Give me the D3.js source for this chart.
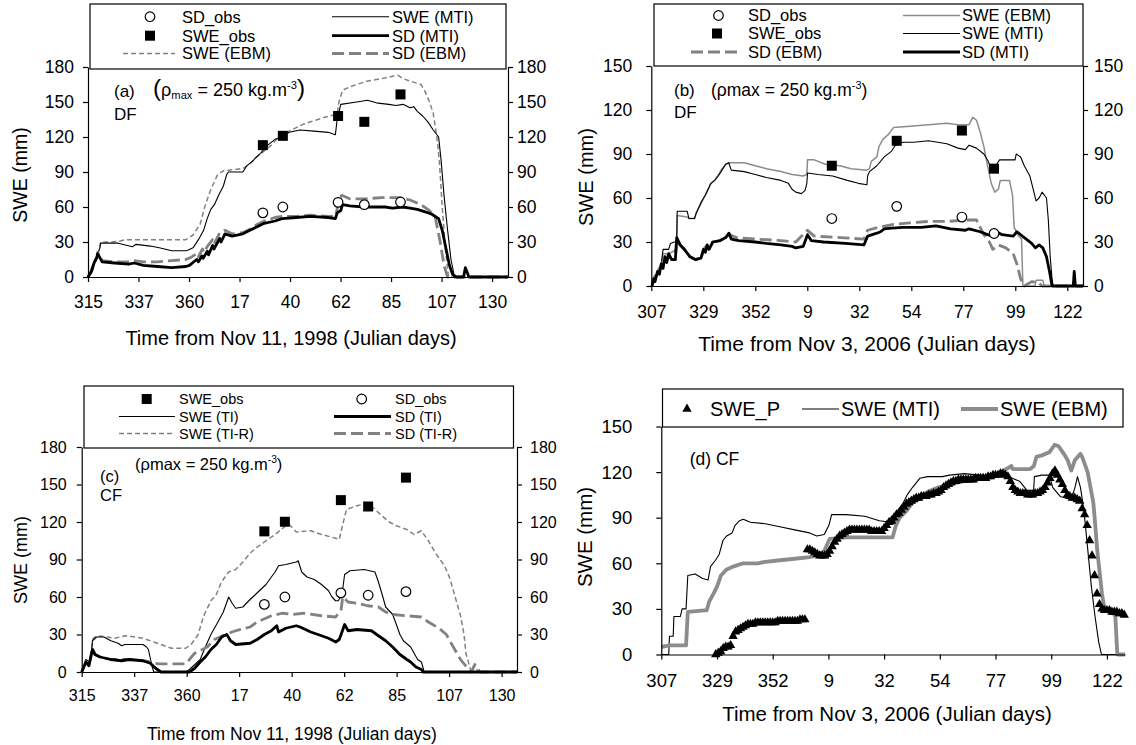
<!DOCTYPE html>
<html><head><meta charset="utf-8">
<script src="https://cdn.jsdelivr.net/npm/d3@7"></script>
<style>body{margin:0;background:#fff}</style>
</head><body>
<svg id="chart" width="1136" height="745" style="background:#fff"></svg>
<script>
// ---------------- DATA ----------------
const xTicksA = [315,337.5,360,382.5,405,427.5,450,472.5,495];
const xTickLabelsA = ["315","337","360","17","40","62","85","107","130"];
const xTicksB = [307,329.5,352,374.5,397,419.5,442,464.5,487];
const xTickLabelsB = ["307","329","352","9","32","54","77","99","122"];
const yTicks180 = [0,30,60,90,120,150,180];
const yTicks150 = [0,30,60,90,120,150];

// Panel (a): day (continuous, >365 = next year), value (mm)
const sweMtiA = [[315,0],[317.1,10],[319,18],[320.3,25],[320.6,29],[328.5,29],[334.8,26],[336.4,28],[342.8,26.5],[346.7,25],[349.1,24],[352.3,22.5],[358.6,22.5],[359.4,23],[361.8,25],[364.2,32],[366.5,40],[368.1,50],[369.7,58],[371.3,62],[373.2,70],[375.3,78],[376.8,88],[377.6,90],[384,90],[385.6,95],[388.7,100],[390,103],[391.9,106],[393.5,110],[395.1,113],[398.3,118],[401.4,120],[404.6,124],[409.4,126],[415.7,125],[422,124],[425.2,122],[426,135],[427.6,148],[434.7,150],[439.5,151.5],[444.2,149],[449,148],[452.2,147],[455.3,148],[458.5,145],[460.1,146],[461.7,142],[464.1,138],[466.4,133],[468.8,126],[471.2,120],[472.3,100],[473.6,70],[475.2,40],[476.7,15],[478.3,0],[482.3,0],[483.1,8],[484.7,0],[502,0]];
const sweEbmA = [[315,0],[317.1,10],[319,18],[320.3,26],[320.6,30],[325,30],[328.5,30.5],[331.7,32],[340,32],[350,32],[358.6,32],[359.4,33],[361.8,36],[364.9,45],[367.3,62],[369.7,75],[372.8,88],[375.3,91],[380,92],[384,93],[387.1,97],[390.3,103],[393.5,108],[396.7,113],[399,118],[401.4,122],[404.6,125],[407.8,128],[411,131],[414.1,133],[418.9,136],[423.6,138.5],[426,140],[426.8,150],[428.4,160],[431.6,163],[434.7,165],[439.5,168],[445.8,170],[450.6,172],[453,173],[455.3,170],[458.5,168],[463.3,165],[464.9,160],[467.2,150],[468.8,140],[470.4,120],[471.5,100],[472.8,60],[474.4,20],[475.6,0],[502,0]];
const sdMtiA = [[315,0],[316.6,5],[317.7,12],[319,17],[319.3,20],[321.3,13],[326.9,12],[333.2,11],[335.6,12],[339.6,10],[345.9,9],[352.3,8],[358.6,9],[360.2,10],[363.4,15],[364.2,13],[365.7,18],[366.3,16],[368.1,22],[368.7,19],[370.5,27],[371.1,24],[373.7,33],[374.3,30],[376,37],[379.2,35],[384,37],[387.1,40],[390.3,43],[393.5,46],[398.3,48],[401.4,50],[407.8,51],[414.1,52],[422,51],[425.2,50],[426,55],[427.6,57],[428.4,62],[431.6,61],[437.9,60],[447.4,60],[450.6,59],[455.3,60],[458.5,59],[461.7,58],[464.9,56],[468,54],[471.2,50],[472.8,40],[474.4,25],[476,10],[477.5,2],[479.1,0],[482.3,0],[483.1,8],[484.7,0],[502,0]];
const sdEbmA = [[315,0],[316.6,5],[317.7,12],[319,17],[319.3,21],[321.3,14],[326.9,13],[333.2,13],[335.6,14],[339.6,13],[345.9,13],[352.3,14],[358.6,15],[361,17],[363.4,20],[364.1,17],[366,24],[366.6,21],[368.1,26],[370.5,32],[371.1,28],[373.7,38],[376,40],[379.2,37],[384,38],[387.1,41],[390.3,45],[393.5,48],[398.3,51],[401.4,52],[407.8,52],[414.1,53],[422,52],[425.2,52],[426.8,65],[428,70],[431.6,67],[437.9,67],[445.8,68],[453.7,68],[458.5,66],[463.3,62],[466.4,58],[469.6,52],[471.9,30],[473.6,10],[475.2,0],[502,0]];
const obsDaysA = [392.9,401.8,426.4,438.1,454.2];
const sweObsA = [113,121,138,133,156.5];
const sdObsA = [55,60,64,62,64.3];

// Panel (b)
const sweMtiB = [[307.3,0],[308.1,3],[309.7,8],[311.3,15],[312.1,25],[314.5,25],[315.3,29],[316.9,30],[318,30],[318.2,51],[322.5,51],[323.3,46],[325.7,46],[326.5,50],[328.8,58],[330.4,62],[332.8,70],[334.4,72],[336,75],[337.6,79],[339.2,83],[340.5,84],[341.6,79],[347.2,78],[352,76],[356.8,74],[363.1,72],[366.3,70],[367.9,66],[369.5,64],[371.9,63],[373.5,65],[374.3,70],[374.6,77],[379.1,76],[385.5,75],[391.8,72],[396.6,70],[400.3,69],[400.6,75],[401.4,78],[404.6,82],[407.8,88],[411,92],[412.6,96],[415.8,98],[420.6,98],[426.9,99],[434.9,97],[439.7,94],[442.9,93],[444.5,96],[447.7,94],[450.9,90],[452.8,85],[453.5,82],[455.6,81],[457.7,86],[462,86],[464.4,86],[464.9,90],[466.8,88],[468.4,82],[470.8,75],[472.4,65],[473.5,58],[474.8,60],[476.1,64],[478,60],[478.8,45],[479.6,20],[480.4,5],[480.9,0],[489.6,0],[490,10],[490.5,0],[493.8,0]];
const sweEbmB = [[307.3,0],[308.1,3],[309.7,8],[311.3,14],[312.1,22],[314.5,22],[316.9,24],[318,26],[318.2,48],[322.5,47],[323.3,46],[325.7,46],[326.5,50],[328.8,57],[330.4,62],[332.8,70],[334.4,72],[336,76],[337.6,80],[339.2,83],[340.8,84],[347.2,84],[352,82],[356.8,80],[363.1,78],[367.9,76],[372.7,75],[374.3,76],[374.6,86],[377.5,86],[382.3,83],[388.7,82],[393.4,80],[400.3,79],[401.4,80],[402.2,85],[404.6,88],[405.5,95],[407.2,100],[409.4,103],[411.8,108],[419,109],[426.9,110],[434.9,111],[439.7,110],[444.5,110],[446.1,115],[447.7,113],[449.3,105],[450.9,95],[452.5,82],[454.1,70],[455.6,64],[457.2,66],[458,72],[462,72],[463.3,62],[464,40],[465.5,35],[467.2,32],[467.8,0],[473,0],[473.5,4],[476.4,4],[477,0],[493.8,0]];
const sdMtiB = [[307.3,0],[308.1,5],[308.6,3],[309.7,10],[310.5,8],[311.3,15],[312.1,12],[312.9,20],[313.7,16],[314.5,22],[315.8,18],[317.4,18],[318,33],[319.5,28],[321.3,25],[323.7,20],[326.1,18],[328.5,19],[329.6,25],[330.4,23],[331.2,28],[332,25],[333.6,30],[336.8,31],[339.2,33],[340.6,36],[341.6,32],[344.8,31],[352,30],[356.8,29],[363.1,28],[367.9,27],[369.5,26],[372.7,27],[374.6,35],[376.2,31],[381.5,30],[391,29],[399,28],[400.6,34],[404.6,36],[406.2,37],[407.8,39],[411,39.5],[415.8,40],[423.8,40],[430.2,41],[436.5,39],[442.9,38],[444.5,39],[449.3,37],[452.5,35],[454.8,34],[456.4,37],[458.8,35],[463.6,34],[465.2,37],[468.4,33],[471.6,29],[473.2,26],[474.8,28],[476.4,26],[478,20],[479.3,10],[480.4,0],[489.6,0],[490,10],[490.5,0],[493.8,0]];
const sdEbmB = [[307.3,0],[308.1,5],[309.7,10],[311.3,14],[312.9,19],[314.5,21],[315.8,18],[317.4,18],[318,32],[319.5,28],[321.3,25],[323.7,20],[326.1,18],[328.5,19],[329.6,25],[331.2,28],[333.6,30],[336.8,31],[339.2,33],[340.6,35],[344,33],[352,32],[363.1,31],[369.5,30],[374.6,38],[377.5,34],[388.7,33],[399,32],[400.6,38],[405.4,40],[411.8,42],[419,43],[426.9,44],[434.9,44],[442.9,45],[447.7,45],[450.9,35],[453.3,30],[454.8,25],[457.2,28],[460.4,26],[463.6,22],[465.2,15],[466.8,5],[468.4,0],[471.6,3],[474.8,2],[476,0],[493.8,0]];
const obsDaysB = [385.1,413.2,441.4,455.3];
const sweObsB = [82,99,106,80];
const sdObsB = [46,54.3,47,35.8];

// Panel (c)
const sweTiC = [[315,0],[316.8,10],[318.4,8],[319.4,20],[319.6,25],[321.4,28],[324.5,28],[327.5,25],[330.6,23],[332.1,21],[333.6,22],[341.3,22],[342.8,20],[343.6,18],[345.1,5],[345.9,0],[359.6,0],[361.2,2],[365.8,10],[368,20],[370.4,30],[373.4,40],[375.7,48],[378,60],[379.5,55],[381,51],[384.1,52],[385.6,55],[387.2,58],[389.5,62],[391.7,66],[394,70],[396.3,76],[397.9,80],[399.4,85],[402.5,86],[407,88],[407.8,89],[409.3,80],[411.6,76],[414.7,74],[417.8,70],[420.8,65],[422.3,60],[423.8,57],[425,57],[426.6,62],[427.7,78],[430,81],[436.1,82],[440.7,80],[442.2,72],[443.8,62],[445.3,52],[448.3,46],[449.9,38],[451.4,30],[452.9,25],[456,20],[457.5,15],[459,10],[460.6,8],[461.1,5],[461.8,0],[501.6,0]];
const sweTiRC = [[315,0],[316.8,10],[318.4,8],[319.9,27],[321.4,29],[326,28],[329.1,27],[333.6,29],[338.2,28],[341.3,27],[345.9,24],[348.9,22],[353.5,19],[359.6,19],[361.9,22],[364.9,30],[367.3,45],[370.4,57],[372.7,62],[374.9,72],[378,80],[381,82],[384.1,88],[387.2,95],[390.2,100],[393.3,104],[397.9,110],[402.5,117],[404,118],[407,112],[413.2,113],[417.8,110],[423.9,107],[425.4,106],[426.9,118],[428.5,130],[433,133],[437.6,135],[440.7,130],[443.7,125],[446.8,120],[449.9,117],[454.4,114],[457.5,110],[460.6,113],[463.6,105],[466.7,95],[470.5,85],[472.8,75],[475.1,60],[477.4,45],[478.9,30],[479.7,15],[481.2,5],[482,0],[483.5,5],[485,0],[501.6,0]];
const sdTiC = [[315,0],[316.8,8],[318.1,5],[319.6,18],[320.7,14],[322.9,12],[327.5,10],[332.1,9],[335.2,10],[341.3,9],[344.4,7],[346.7,3],[349,0],[361.2,0],[363.4,3],[365.8,8],[368,12],[370.4,18],[372.7,22],[375,28],[377.2,30],[378.8,25],[381,22],[387.2,23],[390.2,26],[393.3,30],[396.3,33],[398.6,37],[399.4,32],[402.5,35],[407,37],[408.6,36],[413.2,32],[417.8,29],[420.8,27],[423.9,24],[425.4,26],[426.2,30],[427.7,38],[429.2,33],[433,34],[439.2,33],[442.2,29],[445.3,25],[448.3,20],[451.4,14],[454.4,10],[456,8],[458.3,4],[460.6,2],[461.3,0],[501.6,0]];
const sdTiRC = [[315,0],[316.8,8],[318.1,5],[319.6,19],[320.7,14],[322.9,12],[327.5,10],[332.1,10],[335.2,10],[341.3,9],[344.4,8],[345.9,7],[348,6.5],[359.6,6.5],[363.4,15],[368.8,20],[371.9,26],[376.5,30],[381,33],[387.2,36],[390.2,40],[396.3,45],[400.9,47],[405.5,46],[410.1,47],[417.8,45],[423.9,44],[426.2,50],[426.9,60],[429.2,56],[433,55],[437.6,53],[442.2,52],[445.3,48],[448.3,46],[454.4,45],[460.6,44],[463.6,40],[468.2,35],[471.3,30],[474.3,20],[477.4,10],[480.4,3],[482,0],[483.5,6],[485.7,0],[501.6,0]];
const obsDaysC = [393.3,402.1,426.1,437.8,454.0];
const sweObsC = [112.5,120.2,137.5,132.4,155.5];
const sdObsC = [54.1,60,63.3,61.4,64.3];

// Panel (d)
const sweMtiD = [[307,0],[310,0],[310.3,12],[311.8,12],[312.1,25],[314.7,25],[315.4,30],[317,30],[317.7,52],[320.7,53],[323.7,50],[325.9,49],[326.9,58],[328.9,62],[330.4,66],[331.9,75],[333.4,78],[335.6,80],[336.8,85],[338.6,88],[340.1,89],[343,87],[349,86],[354.9,84],[360.9,82],[366.9,80],[369.8,78],[372.8,79],[374.7,85],[375.8,92],[381.7,92],[389.2,91],[395.1,88],[399.6,87],[401.1,86],[402.6,95],[404.8,100],[406.3,105],[408.5,110],[411.5,116],[414.5,117],[420.5,117],[423.4,118],[429.4,119],[435.4,118],[441.3,117],[444.3,118],[448.8,116],[451.7,114],[454.7,108],[457.4,108],[457.7,117],[460.7,118],[463.7,118],[465.1,110],[468.1,104],[472.6,102],[474.1,110],[475.1,117],[476.3,110],[477.7,95],[479.2,70],[480.7,45],[482.2,25],[483.7,8],[484.8,0],[494.3,0]];
const sweEbmD = [[307,5],[310.3,6],[317,6],[317.7,28],[324.5,29],[325.3,29],[326.4,35],[328.1,40],[329.6,45],[331.1,52],[333.4,56],[336.3,58],[340.1,60],[346,60],[349,61],[354.9,62],[360.9,63],[366.9,64],[369.8,65],[372.8,68],[375,76],[381.7,77],[396.5,77],[400.4,77],[401.8,85],[403.3,90],[406.3,95],[408.5,100],[411.5,103],[414.5,107],[419,110],[423.4,112],[429.4,114],[435.4,116],[441.3,118],[444.3,120],[447.3,123],[448.4,124],[449,122],[456,122],[457.5,124],[458.5,130],[460.7,131],[463.7,133],[465.9,138],[467.5,137],[469.6,132],[471.1,128],[472.6,121],[474.1,128],[476.3,132],[477,130],[479.2,120],[481.5,100],[482.3,85],[483,70],[484,55],[485,40],[486,30],[488,28],[489.7,27],[490.4,25],[491.2,0],[494.3,0]];
const swePStart1 = 329;
const sweP1 = [0,1,2,4,5,5,6,12,15,16,17,18,19,20,20,20,21,21,21,21,21,21,21,21,21,22,22,22,22,22,22,22,22,22,23,23,23];
const swePStart2 = 366;
const sweP2 = [69,69,68,67,66,65,65,65,66,68,
  71,74,76,78,79,80,81,82,
  82,82,82,82,82,82,82,82,
  81,81,81,81,81,
  83,85,87,88,90,92,93,95,97,99,
  100,101,102,103,103,104,104,104,105,105,
  106,106,107,108,110,111,112,113,114,114,
  115,115,115,115,115,115,115,
  116,116,116,116,116,
  117,117,118,118,118,119,119,118,117,114,
  110,108,107,106,106,106,105,105,105,106,
  106,107,108,110,113,116,119,121,118,115,
  112,108,105,104,103,103,102,101,96,92,
  85,75,65,52,40,33,30,29,29,29,
  28,28,28,27,27,26];

// ---------------- DRAWING ----------------
const FONT = '"Liberation Sans", Arial, Helvetica, sans-serif';
const svg = d3.select("#chart");
svg.append("rect").attr("width",1136).attr("height",745).attr("fill","#fff");

const STY = {
  thinBlack:{stroke:"#000",w:1.1,dash:null},
  thickBlack:{stroke:"#000",w:2.8,dash:null},
  grayShort:{stroke:"#828282",w:1.5,dash:"5,3"},
  grayLong:{stroke:"#828282",w:2.8,dash:"12,5"},
  grayThin:{stroke:"#8c8c8c",w:1.5,dash:null},
  grayThick:{stroke:"#8c8c8c",w:3.8,dash:null}
};

function styleLine(sel, key){
  const s = STY[key];
  sel.attr("fill","none").attr("stroke",s.stroke).attr("stroke-width",s.w)
     .attr("stroke-dasharray",s.dash).attr("stroke-linejoin","round");
}

function marker(g, type, cx, cy){
  if(type==="square"){
    g.append("rect").attr("x",cx-5).attr("y",cy-5).attr("width",10).attr("height",10).attr("fill","#000");
  } else if(type==="circle"){
    g.append("circle").attr("cx",cx).attr("cy",cy).attr("r",4.8).attr("fill","#fff").attr("stroke","#000").attr("stroke-width",1.2);
  } else if(type==="tri"){
    g.append("path").attr("d",d3.symbol(d3.symbolTriangle,38)()).attr("transform",`translate(${cx},${cy})`).attr("fill","#000");
  }
}

function rhoText(g, x, y, fs, sub, bigParen){
  const t = g.append("text").attr("x",x).attr("y",y).attr("font-family",FONT).attr("font-size",fs);
  const pf = bigParen ? fs*1.35 : fs;
  t.append("tspan").attr("font-size",pf).text("(");
  t.append("tspan").text("\u03C1");
  if(sub){
    t.append("tspan").attr("font-size",fs*0.62).attr("dy",3).text("max");
    t.append("tspan").attr("dy",-3).text(" = 250 kg.m");
  } else {
    t.append("tspan").text("max = 250 kg.m");
  }
  t.append("tspan").attr("font-size",fs*0.62).attr("dy",-7).text("-3");
  t.append("tspan").attr("font-size",pf).attr("dy",7).text(")");
}

function drawPanel(p){
  const g = svg.append("g");
  const x = d3.scaleLinear().domain(p.xDomain).range([p.left,p.right]);
  const y = d3.scaleLinear().domain(p.yDomain).range([p.bottom,p.top]);
  const line = d3.line().x(d=>x(d[0])).y(d=>y(d[1]));

  p.series.forEach(s=>{ g.append("path").datum(s.data).attr("d",line).call(styleLine,s.style); });
  p.points.forEach(pt=>{
    pt.days.forEach((d,i)=>marker(g, pt.type, x(d), y(pt.values[i])));
  });

  const fixAxis = (a)=>{
    a.attr("font-family",null).attr("font-size",null);
    a.select(".domain").attr("stroke","#000").attr("stroke-width",1.2);
    a.selectAll(".tick line").attr("stroke","#000").attr("stroke-width",1.2);
    a.selectAll("text").attr("font-family",FONT).attr("font-size",p.tickFs).attr("fill","#000");
  };
  g.append("g").attr("transform",`translate(0,${p.bottom})`)
    .call(d3.axisBottom(x).tickValues(p.xTicks).tickFormat((d,i)=>p.xLabels[i]).tickSize(5).tickSizeOuter(0).tickPadding(p.xPad))
    .call(fixAxis);
  g.append("g").attr("transform",`translate(${p.left},0)`)
    .call(d3.axisLeft(y).tickValues(p.yTicks).tickSize(5).tickSizeOuter(0).tickPadding(p.yPad))
    .call(fixAxis);
  if(p.rightAxis){
    g.append("g").attr("transform",`translate(${p.right},0)`)
      .call(d3.axisRight(y).tickValues(p.yTicks).tickSize(5).tickSizeOuter(0).tickPadding(p.rPad))
      .call(fixAxis);
  }

  const L = p.legend;
  g.append("rect").attr("x",L.x0).attr("y",L.y0).attr("width",L.x1-L.x0).attr("height",L.y1-L.y0)
    .attr("fill","#fff").attr("stroke","#000").attr("stroke-width",1.2);
  L.items.forEach(it=>{
    if(it.kind==="line"){
      g.append("line").attr("x1",it.x1).attr("x2",it.x2).attr("y1",it.y).attr("y2",it.y).call(styleLine,it.style);
    } else {
      marker(g, it.kind, it.mx, it.y);
    }
    g.append("text").attr("x",it.tx).attr("y",it.y).attr("dy","0.36em")
      .attr("font-family",FONT).attr("font-size",L.fs).text(it.label);
  });

  g.append("text").attr("x",(p.xTitleX)).attr("y",p.xTitleY).attr("text-anchor","middle")
    .attr("font-family",FONT).attr("font-size",p.xTitleFs).text(p.xTitle);
  g.append("text").attr("transform",`translate(${p.yTitleX},${p.yTitleY}) rotate(-90)`).attr("text-anchor","middle")
    .attr("dy","0.35em").attr("font-family",FONT).attr("font-size",p.yTitleFs).text("SWE (mm)");

  p.notes.forEach(n=>g.append("text").attr("x",n.x).attr("y",n.y).attr("font-family",FONT).attr("font-size",n.fs).text(n.text));
  if(p.rho) rhoText(g, p.rho.x, p.rho.y, p.rho.fs, p.rho.sub, p.rho.big);
}

// Panel (a)
drawPanel({
  left:88, right:508, top:67, bottom:277, xDomain:[315,502.1], yDomain:[0,180],
  xTicks:xTicksA, xLabels:xTickLabelsA, yTicks:yTicks180, rightAxis:true,
  tickFs:17.5, xPad:14, yPad:9, rPad:4,
  series:[{data:sweEbmA,style:"grayShort"},{data:sweMtiA,style:"thinBlack"},{data:sdEbmA,style:"grayLong"},{data:sdMtiA,style:"thickBlack"}],
  points:[{type:"square",days:obsDaysA,values:sweObsA},{type:"circle",days:obsDaysA,values:sdObsA}],
  legend:{x0:90,y0:4,x1:506,y1:69,fs:16.5,items:[
    {kind:"circle",mx:150,y:16.7,tx:182,label:"SD_obs"},
    {kind:"square",mx:150,y:35.7,tx:182,label:"SWE_obs"},
    {kind:"line",style:"grayShort",x1:123,x2:175,y:53.5,tx:182,label:"SWE (EBM)"},
    {kind:"line",style:"thinBlack",x1:332,x2:389,y:16.7,tx:392,label:"SWE (MTI)"},
    {kind:"line",style:"thickBlack",x1:332,x2:389,y:35.7,tx:392,label:"SD (MTI)"},
    {kind:"line",style:"grayLong",x1:332,x2:389,y:53.5,tx:392,label:"SD (EBM)"}]},
  xTitle:"Time from Nov 11, 1998 (Julian days)", xTitleX:291, xTitleY:345, xTitleFs:20,
  yTitleX:20, yTitleY:175, yTitleFs:19.5,
  notes:[{x:114,y:97,text:"(a)",fs:17},{x:114,y:120,text:"DF",fs:17}],
  rho:{x:153,y:96,fs:18,sub:true,big:true}
});

// Panel (b)
drawPanel({
  left:651.3, right:1083, top:66, bottom:286, xDomain:[307,493.8], yDomain:[0,150],
  xTicks:xTicksB, xLabels:xTickLabelsB, yTicks:yTicks150, rightAxis:true,
  tickFs:17.5, xPad:15, yPad:14, rPad:6,
  series:[{data:sweEbmB,style:"grayThin"},{data:sweMtiB,style:"thinBlack"},{data:sdEbmB,style:"grayLong"},{data:sdMtiB,style:"thickBlack"}],
  points:[{type:"square",days:obsDaysB,values:sweObsB},{type:"circle",days:obsDaysB,values:sdObsB}],
  legend:{x0:654,y0:4,x1:1083,y1:66,fs:16.5,items:[
    {kind:"circle",mx:718.5,y:15.5,tx:748,label:"SD_obs"},
    {kind:"square",mx:717,y:33.5,tx:748,label:"SWE_obs"},
    {kind:"line",style:"grayLong",x1:691,x2:741,y:52,tx:748,label:"SD (EBM)"},
    {kind:"line",style:"grayThin",x1:903,x2:960,y:15.5,tx:962,label:"SWE (EBM)"},
    {kind:"line",style:"thinBlack",x1:903,x2:960,y:33.5,tx:962,label:"SWE (MTI)"},
    {kind:"line",style:"thickBlack",x1:903,x2:960,y:52,tx:962,label:"SD (MTI)"}]},
  xTitle:"Time from Nov 3, 2006 (Julian days)", xTitleX:867, xTitleY:351, xTitleFs:21,
  yTitleX:585.5, yTitleY:177, yTitleFs:20,
  notes:[{x:674,y:96,text:"(b)",fs:17},{x:674,y:118,text:"DF",fs:17}],
  rho:{x:711,y:96,fs:17.5,sub:false,big:false}
});

// Panel (c)
drawPanel({
  left:81.7, right:517, top:447, bottom:672, xDomain:[315,501.6], yDomain:[0,180],
  xTicks:xTicksA, xLabels:xTickLabelsA, yTicks:yTicks180, rightAxis:true,
  tickFs:16, xPad:13, yPad:10, rPad:8,
  series:[{data:sweTiRC,style:"grayShort"},{data:sweTiC,style:"thinBlack"},{data:sdTiRC,style:"grayLong"},{data:sdTiC,style:"thickBlack"}],
  points:[{type:"square",days:obsDaysC,values:sweObsC},{type:"circle",days:obsDaysC,values:sdObsC}],
  legend:{x0:84,y0:386,x1:513.5,y1:448,fs:14.5,items:[
    {kind:"square",mx:146.7,y:399,tx:179,label:"SWE_obs"},
    {kind:"line",style:"thinBlack",x1:119,x2:175,y:416.5,tx:179,label:"SWE (TI)"},
    {kind:"line",style:"grayShort",x1:119,x2:175,y:433.5,tx:179,label:"SWE (TI-R)"},
    {kind:"circle",mx:361.7,y:399,tx:395,label:"SD_obs"},
    {kind:"line",style:"thickBlack",x1:334,x2:391,y:416.5,tx:395,label:"SD (TI)"},
    {kind:"line",style:"grayLong",x1:334,x2:391,y:433.5,tx:395,label:"SD (TI-R)"}]},
  xTitle:"Time from Nov 11, 1998 (Julian days)", xTitleX:292, xTitleY:740, xTitleFs:17.5,
  yTitleX:21, yTitleY:560, yTitleFs:18,
  notes:[{x:100,y:482,text:"(c)",fs:16.5},{x:100,y:501,text:"CF",fs:16.5}],
  rho:{x:135,y:470,fs:16.5,sub:false,big:false}
});

// Panel (d)
drawPanel({
  left:661.3, right:1125, top:426.5, bottom:654.5, xDomain:[307,494.3], yDomain:[0,150],
  xTicks:xTicksB, xLabels:xTickLabelsB, yTicks:yTicks150, rightAxis:false,
  tickFs:18.5, xPad:14, yPad:24, rPad:6,
  series:[{data:sweMtiD,style:"thinBlack"},{data:sweEbmD,style:"grayThick"}],
  points:[
    {type:"tri",days:sweP1.map((v,i)=>swePStart1+i),values:sweP1},
    {type:"tri",days:sweP2.map((v,i)=>swePStart2+i),values:sweP2}],
  legend:{x0:662.5,y0:389,x1:1123,y1:427,fs:20,items:[
    {kind:"tri",mx:687,y:409,tx:710,label:"SWE_P"},
    {kind:"line",style:"thinBlack",x1:802,x2:839,y:409,tx:841,label:"SWE (MTI)"},
    {kind:"line",style:"grayThick",x1:961,x2:998,y:409,tx:1000,label:"SWE (EBM)"}]},
  xTitle:"Time from Nov 3, 2006 (Julian days)", xTitleX:887, xTitleY:721, xTitleFs:20.5,
  yTitleX:584.5, yTitleY:537, yTitleFs:20.5,
  notes:[{x:689.7,y:465,text:"(d) CF",fs:17.5}],
  rho:null
});
</script>
</body></html>
